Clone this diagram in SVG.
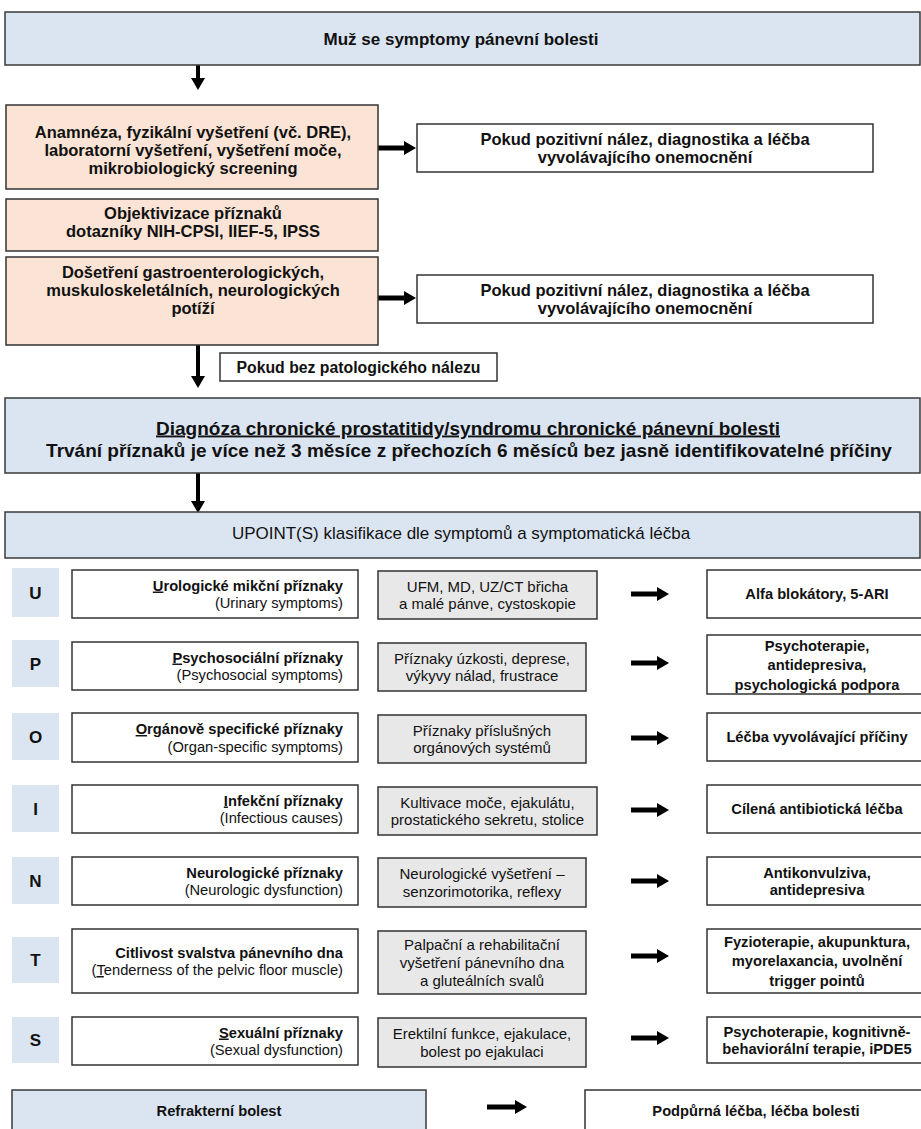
<svg xmlns="http://www.w3.org/2000/svg" width="921" height="1129" viewBox="0 0 921 1129">
<defs>
<style>
text{font-family:"Liberation Sans",Arial,sans-serif;fill:#111}
.b{font-weight:bold}
.m{text-anchor:middle}
.e{text-anchor:end}
.blue{fill:#dbe5f1;stroke:#3a3a3a;stroke-width:1.5}
.orange{fill:#fbe4d5;stroke:#333;stroke-width:1.5}
.white{fill:#fff;stroke:#333;stroke-width:1.5}
.gray{fill:#e8e8e8;stroke:#333;stroke-width:1.5}
.letter{fill:#dbe5f1}
.t17{font-size:17px}
.t165{font-size:16.5px}
.t19{font-size:19px}
.t147{font-size:14.7px}
.t15{font-size:15px}
.conn{stroke:#000;fill:none;marker-end:url(#ah)}
.u{text-decoration:underline}
</style>
<marker id="ah" markerUnits="userSpaceOnUse" markerWidth="13" markerHeight="15" viewBox="0 -7.5 13 15" refX="0" refY="0" orient="auto"><path d="M0,-7 L12,0 L0,7 z" fill="#000"/></marker>
</defs>
<rect width="921" height="1129" fill="#fff"/>

<g id="connectors">
<line class="conn" x1="198" y1="65" x2="198" y2="78" stroke-width="4"/>
<line class="conn" x1="378" y1="148" x2="404" y2="148" stroke-width="5"/>
<line class="conn" x1="378" y1="298" x2="404" y2="298" stroke-width="5"/>
<line class="conn" x1="198" y1="345" x2="198" y2="376" stroke-width="4"/>
<line class="conn" x1="198" y1="473" x2="198" y2="501" stroke-width="4"/>
<line class="conn" x1="631" y1="594" x2="657" y2="594" stroke-width="5"/>
<line class="conn" x1="631" y1="663" x2="657" y2="663" stroke-width="5"/>
<line class="conn" x1="631" y1="738" x2="657" y2="738" stroke-width="5"/>
<line class="conn" x1="631" y1="810" x2="657" y2="810" stroke-width="5"/>
<line class="conn" x1="631" y1="881" x2="657" y2="881" stroke-width="5"/>
<line class="conn" x1="631" y1="956" x2="657" y2="956" stroke-width="5"/>
<line class="conn" x1="631" y1="1038" x2="657" y2="1038" stroke-width="5"/>
<line class="conn" x1="487" y1="1107" x2="515" y2="1107" stroke-width="5"/>
</g>

<g id="n-title">
<rect class="blue" x="5" y="12" width="915" height="53"/>
<text class="b t17 m" x="461" y="45">Muž se symptomy pánevní bolesti</text>
</g>

<g id="n-anamneza">
<rect class="orange" x="6" y="105" width="372" height="84"/>
<text class="b t165 m" x="193" y="138">Anamnéza, fyzikální vyšetření (vč. DRE),</text>
<text class="b t165 m" x="193" y="156">laboratorní vyšetření, vyšetření moče,</text>
<text class="b t165 m" x="193" y="174">mikrobiologický screening</text>
</g>

<g id="n-pozitivni1">
<rect class="white" x="417" y="124" width="456" height="48"/>
<text class="b t165 m" x="645" y="144.5">Pokud pozitivní nález, diagnostika a léčba</text>
<text class="b t165 m" x="645" y="162.5">vyvolávajícího onemocnění</text>
</g>

<g id="n-objektivizace">
<rect class="orange" x="6" y="199" width="372" height="52"/>
<text class="b t165 m" x="193" y="219">Objektivizace příznaků</text>
<text class="b t165 m" x="193" y="237">dotazníky NIH-CPSI, IIEF-5, IPSS</text>
</g>

<g id="n-doseteni">
<rect class="orange" x="6" y="257" width="372" height="88"/>
<text class="b t165 m" x="193" y="278">Došetření gastroenterologických,</text>
<text class="b t165 m" x="193" y="296">muskuloskeletálních, neurologických</text>
<text class="b t165 m" x="193" y="314">potíží</text>
</g>

<g id="n-pozitivni2">
<rect class="white" x="417" y="275" width="456" height="48"/>
<text class="b t165 m" x="645" y="295.5">Pokud pozitivní nález, diagnostika a léčba</text>
<text class="b t165 m" x="645" y="313.5">vyvolávajícího onemocnění</text>
</g>

<g id="n-bez">
<rect class="white" x="220" y="353" width="277" height="28"/>
<text class="b m" x="358.5" y="372.5" style="font-size:15.8px">Pokud bez patologického nálezu</text>
</g>

<g id="n-diagnoza">
<rect class="blue" x="5" y="398" width="915" height="75"/>
<text class="b t19 m u" x="468" y="434.5">Diagnóza chronické prostatitidy/syndromu chronické pánevní bolesti</text>
<text class="b t19 m" x="469" y="456.5">Trvání příznaků je více než 3 měsíce z přechozích 6 měsíců bez jasně identifikovatelné příčiny</text>
</g>

<g id="n-upoint">
<rect class="blue" x="5" y="512" width="915" height="46"/>
<text class="t17 m" x="461" y="539">UPOINT(S) klasifikace dle symptomů a symptomatická léčba</text>
</g>

<!-- U row -->
<g id="n-U">
<rect class="letter" x="12" y="568" width="47" height="49"/>
<text class="b t17 m" x="35.5" y="598.5">U</text>
</g>
<g id="n-U-symptom">
<rect class="white" x="72" y="570" width="286" height="48"/>
<text class="b t147 e" x="343" y="590.5"><tspan class="u">U</tspan>rologické mikční příznaky</text>
<text class="t147 e" x="343" y="608">(Urinary symptoms)</text>
</g>
<g id="n-U-exam">
<rect class="gray" x="378" y="571" width="219" height="48"/>
<text class="t15 m" x="487.5" y="591.5">UFM, MD, UZ/CT břicha</text>
<text class="t15 m" x="487.5" y="609">a malé pánve, cystoskopie</text>
</g>
<g id="n-U-therapy">
<rect class="white" x="707" y="570" width="222" height="48"/>
<text class="b t147 m" x="817" y="599">Alfa blokátory, 5-ARI</text>
</g>

<!-- P row -->
<g id="n-P">
<rect class="letter" x="12" y="640" width="47" height="47"/>
<text class="b t17 m" x="35.5" y="669.5">P</text>
</g>
<g id="n-P-symptom">
<rect class="white" x="72" y="642" width="286" height="48"/>
<text class="b t147 e" x="343" y="662.5"><tspan class="u">P</tspan>sychosociální příznaky</text>
<text class="t147 e" x="343" y="680">(Psychosocial symptoms)</text>
</g>
<g id="n-P-exam">
<rect class="gray" x="378" y="643" width="208" height="48"/>
<text class="t15 m" x="482" y="663.5">Příznaky úzkosti, deprese,</text>
<text class="t15 m" x="482" y="681">výkyvy nálad, frustrace</text>
</g>
<g id="n-P-therapy">
<rect class="white" x="707" y="635" width="222" height="59"/>
<text class="b t147 m" x="817" y="650.5">Psychoterapie,</text>
<text class="b t147 m" x="817" y="670">antidepresiva,</text>
<text class="b t147 m" x="817" y="689.5">psychologická podpora</text>
</g>

<!-- O row -->
<g id="n-O">
<rect class="letter" x="12" y="713" width="47" height="47"/>
<text class="b t17 m" x="35.5" y="742.5">O</text>
</g>
<g id="n-O-symptom">
<rect class="white" x="72" y="713" width="286" height="49"/>
<text class="b t147 e" x="343" y="734"><tspan class="u">O</tspan>rgánově specifické příznaky</text>
<text class="t147 e" x="343" y="751.5">(Organ-specific symptoms)</text>
</g>
<g id="n-O-exam">
<rect class="gray" x="378" y="715" width="208" height="48"/>
<text class="t15 m" x="482" y="735.5">Příznaky příslušných</text>
<text class="t15 m" x="482" y="753">orgánových systémů</text>
</g>
<g id="n-O-therapy">
<rect class="white" x="707" y="713" width="222" height="48"/>
<text class="b t147 m" x="817" y="742">Léčba vyvolávající příčiny</text>
</g>

<!-- I row -->
<g id="n-I">
<rect class="letter" x="12" y="785" width="47" height="47"/>
<text class="b t17 m" x="35.5" y="814.5">I</text>
</g>
<g id="n-I-symptom">
<rect class="white" x="72" y="785" width="286" height="48"/>
<text class="b t147 e" x="343" y="805.5"><tspan class="u">I</tspan>nfekční příznaky</text>
<text class="t147 e" x="343" y="823">(Infectious causes)</text>
</g>
<g id="n-I-exam">
<rect class="gray" x="378" y="787" width="219" height="48"/>
<text class="t15 m" x="487.5" y="807.5">Kultivace moče, ejakulátu,</text>
<text class="t15 m" x="487.5" y="825">prostatického sekretu, stolice</text>
</g>
<g id="n-I-therapy">
<rect class="white" x="707" y="785" width="222" height="48"/>
<text class="b t147 m" x="817" y="814">Cílená antibiotická léčba</text>
</g>

<!-- N row -->
<g id="n-N">
<rect class="letter" x="12" y="857" width="47" height="47"/>
<text class="b t17 m" x="35.5" y="886.5">N</text>
</g>
<g id="n-N-symptom">
<rect class="white" x="72" y="857" width="286" height="48"/>
<text class="b t147 e" x="343" y="877.5">Neurologické příznaky</text>
<text class="t147 e" x="343" y="895">(Neurologic dysfunction)</text>
</g>
<g id="n-N-exam">
<rect class="gray" x="378" y="858" width="208" height="49"/>
<text class="t15 m" x="482" y="879">Neurologické vyšetření –</text>
<text class="t15 m" x="482" y="896.5">senzorimotorika, reflexy</text>
</g>
<g id="n-N-therapy">
<rect class="white" x="707" y="857" width="222" height="48"/>
<text class="b t147 m" x="817" y="877.5">Antikonvulziva,</text>
<text class="b t147 m" x="817" y="895">antidepresiva</text>
</g>

<!-- T row -->
<g id="n-T">
<rect class="letter" x="12" y="937" width="47" height="46"/>
<text class="b t17 m" x="35.5" y="966">T</text>
</g>
<g id="n-T-symptom">
<rect class="white" x="72" y="929" width="286" height="64"/>
<text class="b t147 e" x="343" y="957.5">Citlivost svalstva pánevního dna</text>
<text class="t147 e" x="343" y="975">(<tspan class="u">T</tspan>enderness of the pelvic floor muscle)</text>
</g>
<g id="n-T-exam">
<rect class="gray" x="378" y="931" width="208" height="63"/>
<text class="t15 m" x="482" y="949.5">Palpační a rehabilitační</text>
<text class="t15 m" x="482" y="967.5">vyšetření pánevního dna</text>
<text class="t15 m" x="482" y="985.5">a gluteálních svalů</text>
</g>
<g id="n-T-therapy">
<rect class="white" x="707" y="929" width="222" height="64"/>
<text class="b t147 m" x="817" y="946.5">Fyzioterapie, akupunktura,</text>
<text class="b t147 m" x="817" y="966">myorelaxancia, uvolnění</text>
<text class="b t147 m" x="817" y="985.5">trigger pointů</text>
</g>

<!-- S row -->
<g id="n-S">
<rect class="letter" x="12" y="1017" width="47" height="46"/>
<text class="b t17 m" x="35.5" y="1046">S</text>
</g>
<g id="n-S-symptom">
<rect class="white" x="72" y="1017" width="286" height="48"/>
<text class="b t147 e" x="343" y="1037.5"><tspan class="u">S</tspan>exuální příznaky</text>
<text class="t147 e" x="343" y="1055">(Sexual dysfunction)</text>
</g>
<g id="n-S-exam">
<rect class="gray" x="378" y="1018" width="208" height="49"/>
<text class="t15 m" x="482" y="1039">Erektilní funkce, ejakulace,</text>
<text class="t15 m" x="482" y="1056.5">bolest po ejakulaci</text>
</g>
<g id="n-S-therapy">
<rect class="white" x="707" y="1017" width="222" height="46"/>
<text class="b t147 m" x="817" y="1036.5">Psychoterapie, kognitivně-</text>
<text class="b t147 m" x="817" y="1054">behaviorální terapie, iPDE5</text>
</g>

<!-- Refractory -->
<g id="n-refrakterni">
<rect class="blue" x="12" y="1090" width="414" height="48"/>
<text class="b t147 m" x="219" y="1116">Refrakterní bolest</text>
</g>
<g id="n-podpurna">
<rect class="white" x="585" y="1090" width="345" height="48"/>
<text class="b t147 m" x="756" y="1116">Podpůrná léčba, léčba bolesti</text>
</g>
</svg>
